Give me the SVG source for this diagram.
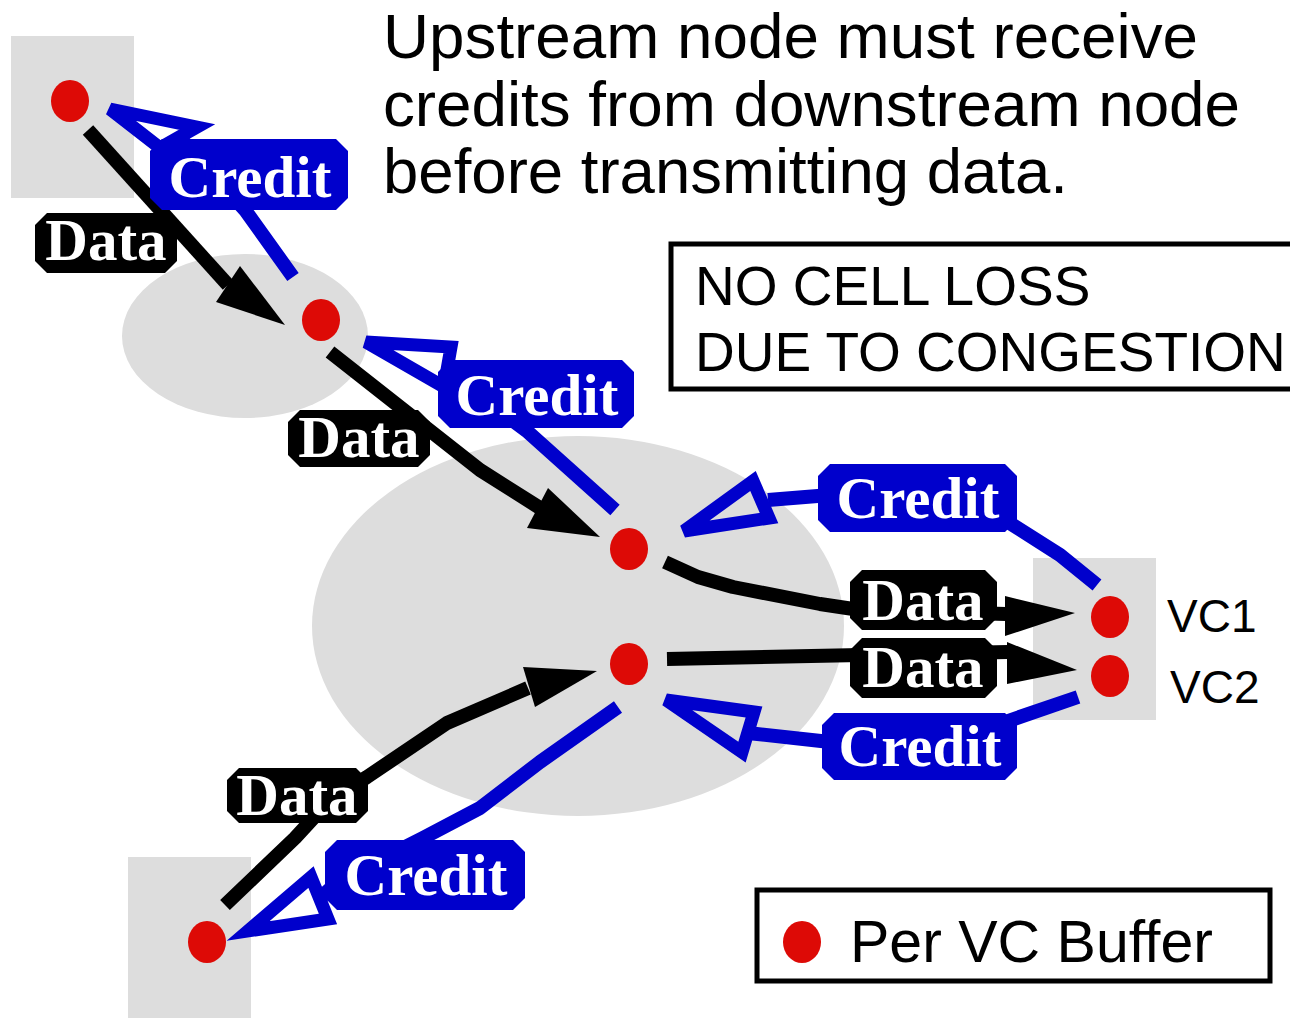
<svg xmlns="http://www.w3.org/2000/svg" width="1290" height="1018" viewBox="0 0 1290 1018">
<style>
.bg{fill:#dddddd}
.dot{fill:#dd0a06}
.dl{fill:none;stroke:#000;stroke-width:14;stroke-linejoin:round}
.ah{fill:#000}
.cl{fill:none;stroke:#0000cc;stroke-width:14;stroke-linejoin:round}
.ch{fill:none;stroke:#0000cc;stroke-width:13;stroke-linejoin:miter}
.dbox{fill:#000}
.cbox{fill:#0000cc}
.lt{font-family:"Liberation Serif","Times New Roman",serif;font-weight:bold;font-size:59px;fill:#fff;text-anchor:middle}
.t{font-family:"Liberation Sans",Arial,sans-serif;fill:#000}
.frame{fill:#fff;stroke:#000;stroke-width:5}
</style>
<rect width="1290" height="1018" fill="#fff"/>
<g id="regions">
<rect class="bg" x="11" y="36" width="123" height="162"/>
<ellipse class="bg" cx="245" cy="336" rx="123" ry="82"/>
<ellipse class="bg" cx="578" cy="626" rx="266" ry="190"/>
<rect class="bg" x="1033" y="558" width="123" height="162"/>
<rect class="bg" x="128" y="857" width="123" height="161"/>
</g>
<g id="header">
<text class="t" x="383" y="58" font-size="63" textLength="815" lengthAdjust="spacingAndGlyphs">Upstream node must receive</text>
<text class="t" x="383" y="126" font-size="63" textLength="857" lengthAdjust="spacingAndGlyphs">credits from downstream node</text>
<text class="t" x="383" y="193" font-size="63" textLength="685" lengthAdjust="spacingAndGlyphs">before transmitting data.</text>
</g>
<g id="note">
<rect class="frame" x="671" y="244" width="640" height="145"/>
<text class="t" x="695" y="305" font-size="55">NO CELL LOSS</text>
<text class="t" x="695" y="371" font-size="55">DUE TO CONGESTION</text>
</g>
<g id="connectors">
<polyline class="dl" points="88,130 228,285"/>
<polygon class="ah" points="285,325 216,302 240,266"/>
<polyline class="dl" points="330,352 480,470 540,508"/>
<polygon class="ah" points="600,537 527,528 548,488"/>
<polyline class="dl" points="665,562 698,577 733,587 820,604 860,610 1006,614"/>
<polygon class="ah" points="1075,613 1005,596 1005,636"/>
<polyline class="dl" points="667,659 1008,652"/>
<polygon class="ah" points="1077,670 1007,642 1007,684"/>
<polyline class="dl" points="225,905 295,838 330,800 367,777 447,723 528,688"/>
<polygon class="ah" points="597,671 523,667 535,707"/>
<polyline class="cl" points="293,277 245,210 180,138"/>
<polygon class="ch" points="110,109 197,127 160,148"/>
<polyline class="cl" points="615,510 528,432 448,372"/>
<polygon class="ch" points="366,342 451,347 444,387"/>
<polyline class="cl" points="768,500 830,495"/>
<polyline class="cl" points="1005,520 1060,555 1097,585"/>
<polygon class="ch" points="684,531 753,481 769,518"/>
<polyline class="cl" points="748,733 830,742"/>
<polyline class="cl" points="1005,722 1078,697"/>
<polygon class="ch" points="666,700 754,712 742,752"/>
<polyline class="cl" points="320,898 340,880 423,838 480,808 540,762 618,707"/>
<polygon class="ch" points="248,931 311,877 328,919"/>
</g>
<g id="label-credit-1"><path class="cbox" d="M162,139H336L348,151V198L336,210H162L150,198V151Z"/><text class="lt" x="250" y="197">Credit</text></g>
<g id="label-data-1"><path class="dbox" d="M47,213H165L177,225V261L165,273H47L35,261V225Z"/><text class="lt" x="106" y="260">Data</text></g>
<g id="label-credit-2"><path class="cbox" d="M450,360H622L634,372V416L622,428H450L438,416V372Z"/><text class="lt" x="537" y="415">Credit</text></g>
<g id="label-data-2"><path class="dbox" d="M300,410H418L430,422V455L418,467H300L288,455V422Z"/><text class="lt" x="359" y="457">Data</text></g>
<g id="label-credit-3"><path class="cbox" d="M830,464H1005L1017,476V520L1005,532H830L818,520V476Z"/><text class="lt" x="918" y="518">Credit</text></g>
<g id="label-data-3"><path class="dbox" d="M862,570H985L997,582V618L985,630H862L850,618V582Z"/><text class="lt" x="923" y="620">Data</text></g>
<g id="label-data-4"><path class="dbox" d="M862,638H985L997,650V686L985,698H862L850,686V650Z"/><text class="lt" x="923" y="687">Data</text></g>
<g id="label-credit-4"><path class="cbox" d="M834,713H1005L1017,725V768L1005,780H834L822,768V725Z"/><text class="lt" x="920" y="766">Credit</text></g>
<g id="label-data-5"><path class="dbox" d="M239,768H356L368,780V811L356,823H239L227,811V780Z"/><text class="lt" x="297" y="815">Data</text></g>
<g id="label-credit-5"><path class="cbox" d="M337,840H513L525,852V898L513,910H337L325,898V852Z"/><text class="lt" x="426" y="895">Credit</text></g>
<g id="buffers">
<ellipse id="buf-a" class="dot" cx="70" cy="101" rx="19" ry="21"/>
<ellipse id="buf-b" class="dot" cx="321" cy="320" rx="19" ry="21"/>
<ellipse id="buf-c" class="dot" cx="629" cy="549" rx="19" ry="21"/>
<ellipse id="buf-d" class="dot" cx="629" cy="664" rx="19" ry="21"/>
<ellipse id="buf-vc1" class="dot" cx="1110" cy="617" rx="19" ry="21"/>
<ellipse id="buf-vc2" class="dot" cx="1110" cy="676" rx="19" ry="21"/>
<ellipse id="buf-e" class="dot" cx="207" cy="942" rx="19" ry="21"/>
</g>
<g id="vc-labels">
<text class="t" x="1167" y="632" font-size="46">VC1</text>
<text class="t" x="1170" y="703" font-size="46">VC2</text>
</g>
<g id="legend">
<rect class="frame" x="757" y="890" width="513" height="91"/>
<ellipse class="dot" cx="802" cy="942" rx="19" ry="21"/>
<text class="t" x="850" y="962" font-size="59">Per VC Buffer</text>
</g>
</svg>
